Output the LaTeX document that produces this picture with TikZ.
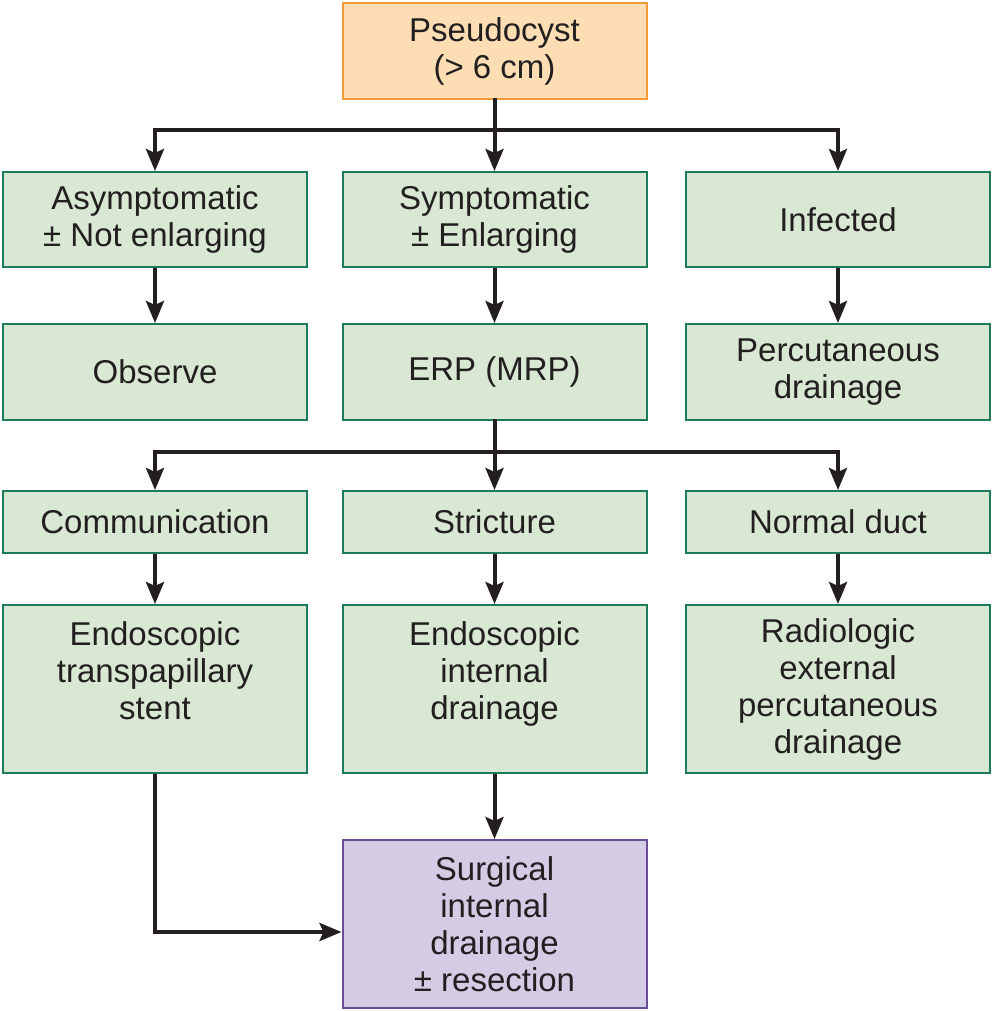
\documentclass[tikz,border=0pt]{standalone}
\usepackage{fontspec}
\setmainfont{Liberation Sans}
\usetikzlibrary{arrows.meta}
\definecolor{gfill}{HTML}{D8E8D2}
\definecolor{gdraw}{HTML}{1E7A5C}
\definecolor{ofill}{HTML}{FDDDB3}
\definecolor{odraw}{HTML}{F29B38}
\definecolor{pfill}{HTML}{D4CCE5}
\definecolor{pdraw}{HTML}{6A4E98}
\definecolor{txt}{HTML}{231F20}
\tikzset{
  box/.style={draw=gdraw, fill=gfill, line width=2pt, minimum width=304pt, text=txt,
    align=center, inner sep=0pt, font=\fontsize{33}{37}\selectfont},
  obox/.style={box, draw=odraw, fill=ofill},
  pbox/.style={box, draw=pdraw, fill=pfill},
  conn/.style={line width=4pt, draw=txt, line cap=rect},
  arr/.style={line width=4pt, draw=txt, -{Stealth[length=22pt,width=18pt,inset=4pt]}},
}
\begin{document}
\begin{tikzpicture}[x=1pt,y=-1pt]
\useasboundingbox (0,0) rectangle (993,1011);
% top
\node[obox, minimum height=96pt] (p) at (494.5,51) {Pseudocyst\\(> 6 cm)};
% row1
\node[box, minimum height=95pt] (a1) at (155,219.5) {Asymptomatic\\± Not enlarging};
\node[box, minimum height=95pt] (b1) at (494.5,219.5) {Symptomatic\\± Enlarging};
\node[box, minimum height=95pt] (c1) at (838,219.5) {Infected};
% row2
\node[box, minimum height=96pt] (a2) at (155,372) {Observe};
\node[box, minimum height=96pt] (b2) at (494.5,372) {ERP (MRP)};
\node[box, minimum height=96pt] (c2) at (838,372) {Percutaneous\\drainage};
% row3
\node[box, minimum height=62pt] (a3) at (155,522) {Communication};
\node[box, minimum height=62pt] (b3) at (494.5,522) {Stricture};
\node[box, minimum height=62pt] (c3) at (838,522) {Normal duct};
% row4
\node[box, minimum height=168pt] (a4) at (155,689) {Endoscopic\\transpapillary\\stent\\\mbox{}};
\node[box, minimum height=168pt] (b4) at (494.5,689) {Endoscopic\\internal\\drainage\\\mbox{}};
\node[box, minimum height=168pt] (c4) at (838,689) {Radiologic\\external\\percutaneous\\drainage};
% final
\node[pbox, minimum height=168pt] (f) at (494.5,924) {Surgical\\internal\\drainage\\± resection};
% junctions
\coordinate (j1) at (494.5,130);
\coordinate (j2) at (494.5,452);
\coordinate (jl) at (152,932);
% connectors
\draw[conn] (p.south) -- (j1);
\draw[conn] (j1 -| a1) -- (j1 -| c1);
\draw[arr] (j1 -| a1) -- (a1.north);
\draw[arr] (j1) -- (b1.north);
\draw[arr] (j1 -| c1) -- (c1.north);
\draw[arr] (a1.south) -- (a2.north);
\draw[arr] (b1.south) -- (b2.north);
\draw[arr] (c1.south) -- (c2.north);
\draw[conn] (b2.south) -- (j2);
\draw[conn] (j2 -| a3) -- (j2 -| c3);
\draw[arr] (j2 -| a3) -- (a3.north);
\draw[arr] (j2) -- (b3.north);
\draw[arr] (j2 -| c3) -- (c3.north);
\draw[arr] (a3.south) -- (a4.north);
\draw[arr] (b3.south) -- (b4.north);
\draw[arr] (c3.south) -- (c4.north);
\draw[arr] (b4.south) -- (f.north);
\draw[arr] (a4.south) |- (f.west |- jl);
\end{tikzpicture}
\end{document}
